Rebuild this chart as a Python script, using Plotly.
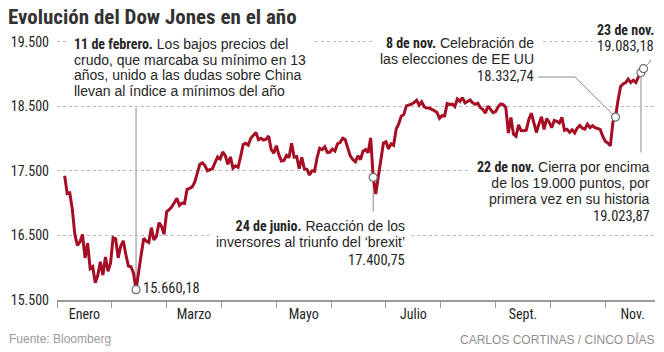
import pandas as pd
import plotly.graph_objects as go

# ---------------- DATA (Dow Jones daily close) ----------------
close_2015_end = [17425.03]
jan = [17148.94, 17158.66, 16906.51, 16514.10, 16346.45, 16398.57, 16516.22, 16151.41,
       16379.05, 15988.08, 16016.02, 15766.74, 15882.68, 16093.51, 15885.22, 16167.23,
       15944.46, 16069.64, 16466.30]
feb = [16449.18, 16153.54, 16336.66, 16416.58, 16204.97, 16027.05, 16014.38, 15914.74,
       15660.18, 15973.84, 16196.41, 16453.83, 16413.43, 16391.99, 16620.66, 16431.78,
       16484.99, 16697.29, 16639.97, 16516.50]
mar = [16865.08, 16899.32, 16943.90, 17006.77, 17073.95, 16964.10, 17000.36, 16995.13,
       17213.31, 17229.13, 17251.53, 17325.76, 17481.49, 17602.30, 17623.87, 17582.57,
       17502.59, 17515.73, 17535.39, 17633.11, 17716.66, 17685.09]
apr = [17792.75, 17737.00, 17603.32, 17716.05, 17541.96, 17576.96, 17556.41, 17721.25,
       17908.28, 17926.43, 17897.46, 18004.16, 18053.60, 18096.27, 17982.52, 18003.75,
       17977.24, 17990.32, 18041.55, 17830.76, 17773.64]
may = [17891.16, 17750.91, 17651.26, 17660.71, 17740.63, 17705.91, 17928.35, 17711.12,
       17720.50, 17535.32, 17710.71, 17529.98, 17526.62, 17435.40, 17500.94, 17492.93,
       17706.05, 17851.51, 17828.29, 17873.22, 17787.20]
jun = [17789.67, 17838.56, 17807.06, 17920.33, 17938.28, 18005.05, 17985.19, 17865.34,
       17732.48, 17674.82, 17640.17, 17733.10, 17675.16, 17804.87, 17829.73, 17780.83,
       18011.07, 17400.75, 17140.24, 17409.72, 17694.68, 17929.99]
jul = [17949.37, 17840.62, 17918.62, 17895.88, 18146.74, 18226.93, 18347.67, 18372.12,
       18506.41, 18516.55, 18533.05, 18559.01, 18595.03, 18517.23, 18570.85, 18493.06,
       18473.75, 18472.17, 18456.35, 18432.24]
aug = [18404.51, 18313.77, 18355.00, 18352.05, 18543.53, 18529.29, 18533.05, 18495.66,
       18613.52, 18576.47, 18636.05, 18552.02, 18573.94, 18597.70, 18552.57, 18529.42,
       18547.30, 18481.48, 18448.41, 18395.40, 18502.99, 18454.30, 18400.88]
sep = [18419.30, 18491.96, 18538.12, 18526.14, 18479.91, 18085.45, 18325.07, 18066.75,
       18034.77, 18212.48, 18123.80, 18120.17, 18129.96, 18293.70, 18392.46, 18261.45,
       18094.83, 18228.30, 18339.24, 18143.45, 18308.15]
oct_ = [18253.85, 18168.45, 18281.03, 18268.50, 18240.49, 18329.04, 18128.66, 18144.20,
        18098.94, 18138.38, 18086.40, 18161.94, 18202.62, 18162.35, 18145.71, 18223.03,
        18169.27, 18199.33, 18169.68, 18161.19, 18142.42]
nov = [18037.10, 17959.64, 17930.67, 17888.28, 18259.60, 18332.74, 18589.69, 18807.88,
       18847.66, 18868.69, 18923.06, 18868.14, 18903.82, 18867.93, 18956.69, 19023.87,
       19083.18]

closes = close_2015_end + jan + feb + mar + apr + may + jun + jul + aug + sep + oct_ + nov

holidays = ["2016-01-01", "2016-01-18", "2016-02-15", "2016-03-25",
            "2016-05-30", "2016-07-04", "2016-09-05"]
cbd = pd.offsets.CustomBusinessDay(holidays=holidays)
dates = [pd.Timestamp("2015-12-31")] + list(pd.date_range("2016-01-04", "2016-11-23", freq=cbd))
dates = dates[:len(closes)]
x_idx = list(range(len(closes)))

event_dates = ["2016-02-11", "2016-06-24", "2016-11-08", "2016-11-22", "2016-11-23"]
ev = [dates.index(pd.Timestamp(d)) for d in event_dates]

month_labels = ["Enero", "Marzo", "Mayo", "Julio", "Sept.", "Nov."]
y_ticks = [15500, 16500, 17500, 18500, 19500]
y_ticktext = ["15.500", "16.500", "17.500", "18.500", "19.500"]

# ---------------- LAYOUT HELPERS ----------------
W, H = 664, 352
L, R, T, B = 57, 655, 34, 300
X_RANGE = [-3, 231.5]
Y_RANGE = [15500, 19620]
SEG = 21.5  # month segment width on axis


def px_to_x(px):
    return X_RANGE[0] + (px - L) / (R - L) * (X_RANGE[1] - X_RANGE[0])


def py_to_y(py):
    return Y_RANGE[0] + (B - py) / (B - T) * (Y_RANGE[1] - Y_RANGE[0])


def pxp(px):
    return (px - L) / (R - L)


def pyp(py):
    return (B - py) / (B - T)


NARROW = "Roboto Condensed, Liberation Sans, Arial"
REG = "Liberation Sans, Arial, Helvetica"
TXT = "#262626"
RED = "#a50e24"
GREY = "#8a8a8a"


def es(v):
    return f"{v:,.2f}".replace(",", "X").replace(".", ",").replace("X", ".")


def bold(s, size=14):
    return f'<span style="font-family:Roboto Condensed;font-weight:bold;font-size:{size}px">{s}</span>'


def reg(s, size=14):
    return f'<span style="font-size:{size}px">{s}</span>'


fig = go.Figure()

fig.add_trace(go.Scatter(
    x=x_idx, y=closes, mode="lines",
    line=dict(color=RED, width=3), hoverinfo="skip", showlegend=False))

fig.add_trace(go.Scatter(
    x=[x_idx[i] for i in ev], y=[closes[i] for i in ev], mode="markers",
    marker=dict(size=8, color="white", line=dict(color="#6e6e6e", width=1.2)),
    hoverinfo="skip", showlegend=False, cliponaxis=False))

# leader lines
shapes = []
lc = dict(color=GREY, width=1)
i_feb, i_jun, i_n8, i_n22, i_n23 = ev
shapes.append(dict(type="line", xref="x", yref="y", layer="below",
                   x0=i_feb, x1=i_feb, y0=closes[i_feb], y1=py_to_y(108), line=lc))
shapes.append(dict(type="line", xref="x", yref="y", layer="below",
                   x0=i_jun, x1=i_jun, y0=closes[i_jun], y1=py_to_y(212), line=lc))
shapes.append(dict(type="path", xref="x", yref="y", layer="below",
                   path=f"M {i_n8},{closes[i_n8]} L {px_to_x(575)},{py_to_y(77)} L {px_to_x(538)},{py_to_y(77)}",
                   line=lc))
shapes.append(dict(type="line", xref="x", yref="y", layer="below",
                   x0=i_n22, x1=i_n22, y0=closes[i_n22], y1=py_to_y(157), line=lc))
shapes.append(dict(type="path", xref="x", yref="y", layer="below",
                   path=f"M {i_n23},{closes[i_n23]} L {px_to_x(650)},{py_to_y(62)} L {px_to_x(650)},{py_to_y(55)}",
                   line=lc))

ann = []


def block(lines, xpx, y_first, anchor, base=12.2, bg="white", pad=6):
    spacing = base * 1.3
    center = y_first + (len(lines) - 1) * spacing / 2
    ann.append(dict(text="<br>".join(lines), x=pxp(xpx), y=pyp(center),
                    xref="paper", yref="paper", xanchor=anchor, yanchor="middle",
                    align=anchor, showarrow=False,
                    font=dict(family=REG, size=base, color=TXT),
                    bgcolor=bg, borderpad=pad))


def number(v, xpx, ypx, anchor, bg=None, pad=0):
    ann.append(dict(text=es(v), x=pxp(xpx), y=pyp(ypx), xref="paper", yref="paper",
                    xanchor=anchor, yanchor="middle", showarrow=False,
                    font=dict(family=NARROW, size=14.5, color=TXT),
                    bgcolor=bg, borderpad=pad))


# Feb 11 block
block([bold("11 de febrero.") + reg(" Los bajos precios del"),
       reg("crudo, que marcaba su mínimo en 13"),
       reg("años, unido a las dudas sobre China"),
       reg("llevan al índice a mínimos del año")], 67, 44, "left", base=12)
number(closes[i_feb], 142, 288, "left")

# 8 Nov block
block([bold("8 de nov.") + reg(" Celebración de"),
       reg("las elecciones de EE UU")], 541, 43, "right", base=12)
number(closes[i_n8], 535, 76.5, "right")

# 23 Nov (number first so the bold date line is drawn on top)
number(closes[i_n23], 659, 46.5, "right", bg="white", pad=4)
ann.append(dict(text="<b>23 de nov.</b>", x=pxp(656), y=pyp(30), xref="paper", yref="paper",
                xanchor="right", yanchor="middle", showarrow=False,
                font=dict(family=NARROW, size=14, color=TXT)))

# 22 Nov block
block([bold("22 de nov.") + reg(" Cierra por encima"),
       reg("de los 19.000 puntos, por"),
       reg("primera vez en su historia")], 657, 167, "right")
number(closes[i_n22], 651, 216.5, "right")

# 24 Jun block
block([bold("24 de junio.") + reg(" Reacción de los"),
       reg("inversores al triunfo del ‘brexit’")], 412, 226, "right")
number(closes[i_jun], 406, 260, "right")

# title and footer
ann.append(dict(text="<b>Evolución del Dow Jones en el año</b>", x=pxp(6), y=pyp(17),
                xref="paper", yref="paper", xanchor="left", yanchor="middle", showarrow=False,
                font=dict(family=NARROW, size=21, color="#333333")))
ann.append(dict(text="Fuente: Bloomberg", x=pxp(7), y=pyp(339), xref="paper", yref="paper",
                xanchor="left", yanchor="middle", showarrow=False,
                font=dict(family=REG, size=12, color="#9a9a9a")))
ann.append(dict(text="CARLOS CORTINAS / CINCO DÍAS", x=pxp(656), y=pyp(339), xref="paper",
                yref="paper", xanchor="right", yanchor="middle", showarrow=False,
                font=dict(family=REG, size=12, color="#8f8f8f")))

bounds = [X_RANGE[0] + k * SEG for k in range(11)]
label_pos = [X_RANGE[0] + (2 * k + 0.5) * SEG for k in range(len(month_labels))]

fig.update_layout(
    width=W, height=H,
    margin=dict(l=L, r=W - R, t=T, b=H - B, pad=0),
    paper_bgcolor="white", plot_bgcolor="white",
    showlegend=False,
    xaxis=dict(range=X_RANGE, tickmode="array", tickvals=label_pos, ticktext=month_labels,
               ticks="", showgrid=False, zeroline=False, showline=True,
               linecolor="#9a9a9a", linewidth=1.5,
               tickfont=dict(family=NARROW, size=14, color=TXT), ticklabelstandoff=0,
               minor=dict(tickmode="array", tickvals=bounds, ticks="outside", ticklen=6,
                          tickcolor="#9a9a9a", tickwidth=1, showgrid=False),
               fixedrange=True),
    yaxis=dict(range=Y_RANGE, tickmode="array", tickvals=y_ticks, ticktext=y_ticktext,
               ticks="", showgrid=True, gridcolor="#b8b8b8", gridwidth=1, griddash="dot",
               zeroline=False, showline=False,
               tickfont=dict(family=NARROW, size=14, color=TXT), ticklabelstandoff=7,
               fixedrange=True),
    shapes=shapes, annotations=ann,
)

fig.write_html("out.html")
